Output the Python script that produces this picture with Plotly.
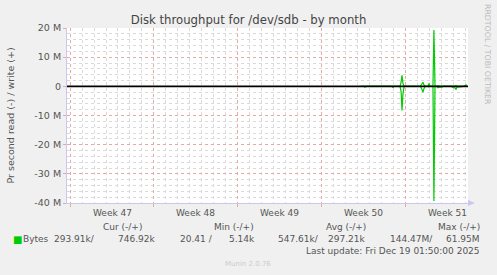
import plotly.graph_objects as go

# ---- data (x in days from start of Week 47; values in bytes/s) ----
t_days = [24.3, 24.5, 24.58, 24.67, 25.9, 26.08, 26.17, 26.25, 26.8, 26.92, 27.0,
          27.5, 27.6, 27.67, 27.75, 27.85, 29.2, 29.33, 29.42, 29.5, 29.6,
          29.83, 29.92, 30.0, 30.25, 30.33, 30.42, 30.58, 30.67, 30.75, 31.0,
          31.1, 31.8, 31.9, 32.08, 32.17, 32.25, 32.8, 32.92, 33.0, 33.08]
write_vals = [0, 0, 0.1e6, 0, 0, 0, 0.1e6, 0, 0, 0.2e6, 0,
              0, 1.5e6, 3.8e6, 1.0e6, 0, 0, 0.8e6, 1.4e6, 0.5e6, 0,
              0, 1.0e6, 0, 0, 19.3e6, 0, 0, 0.2e6, 0, 0.1e6,
              0, 0, 0.1e6, 0, 0.2e6, 0, 0, 0.3e6, 0.5e6, 0.3e6]
read_vals = [0, 0, -0.3e6, 0, 0, 0, -0.2e6, 0, 0, -0.4e6, 0,
             0, -2.0e6, -8.3e6, -2.5e6, 0, 0, -1.0e6, -2.0e6, -0.8e6, 0,
             0, -0.2e6, 0, 0, -39.3e6, 0, 0, -0.5e6, -0.3e6, -0.3e6,
             0, 0, -0.4e6, -0.5e6, -1.0e6, -0.3e6, 0, -0.1e6, 0, 0]

week_starts = [0, 7, 14, 21, 28]
week_mid = [3.5, 10.5, 17.5, 24.5, 31.5]
week_labels = ["Week 47", "Week 48", "Week 49", "Week 50", "Week 51"]
y_tickvals = [20e6, 10e6, 0, -10e6, -20e6, -30e6, -40e6]
y_ticktext = ["20 M", "10 M", "0", "-10 M", "-20 M", "-30 M", "-40 M"]
x_range = [-0.25, 33.17]
y_range = [-40e6, 20e6]

title = "Disk throughput for /dev/sdb - by month"
y_title = "Pr second read (-) / write (+)"
legend_headers = ["Cur (-/+)", "Min (-/+)", "Avg (-/+)", "Max (-/+)"]
series_name = "Bytes"
stat_read = ["293.91k/", "20.41 /", "547.61k/", "144.47M/"]
stat_write = ["746.92k", "5.14k", "297.21k", "61.95M"]
last_update = "Last update: Fri Dec 19 01:50:00 2025"
munin_ver = "Munin 2.0.76"
rrd_credit = "RRDTOOL / TOBI OETIKER"

W, H = 497, 275
L, R, T, B = 67, 468, 28, 203
FONT = "DejaVu Sans"
TXT = "#555555"
GREEN = "#00cc00"


def px(x):
    return (x - L) / (R - L)


def py(y):
    return (B - y) / (B - T)


fig = go.Figure()
fig.add_trace(go.Scatter(x=t_days, y=write_vals, mode="lines",
                         line=dict(color=GREEN, width=1.2), showlegend=False,
                         hoverinfo="skip"))
fig.add_trace(go.Scatter(x=t_days, y=read_vals, mode="lines",
                         line=dict(color=GREEN, width=1.2), showlegend=False,
                         hoverinfo="skip"))

fig.add_hline(y=0, line=dict(color="black", width=1.6), layer="above")

anns = []
for xm, lab in zip(week_mid, week_labels):
    anns.append(dict(x=xm, y=py(213), xref="x", yref="paper", text=lab,
                     showarrow=False, xanchor="center", yanchor="middle",
                     font=dict(family=FONT, size=9, color=TXT)))

hdr_cx = [122, 234, 346, 459]
for cx, h in zip(hdr_cx, legend_headers):
    anns.append(dict(x=px(cx), y=py(227), xref="paper", yref="paper", text=h,
                     showarrow=False, xanchor="center", yanchor="middle",
                     font=dict(family=FONT, size=9, color=TXT)))

# legend colour swatch
anns.append(dict(x=px(17), y=py(239), xref="paper", yref="paper", text="\u25A0",
                 showarrow=False, xanchor="center", yanchor="middle",
                 font=dict(family=FONT, size=10, color=GREEN)))
anns.append(dict(x=px(20.5), y=py(239), xref="paper", yref="paper", text=series_name,
                 showarrow=False, xanchor="left", yanchor="middle",
                 font=dict(family=FONT, size=9, color=TXT)))
read_right = [97, 215, 321, 435]
write_right = [157, 257, 367, 482]
for xr, s in zip(read_right, stat_read):
    anns.append(dict(x=px(xr), y=py(239), xref="paper", yref="paper", text=s,
                     showarrow=False, xanchor="right", yanchor="middle",
                     font=dict(family=FONT, size=9, color=TXT)))
for xr, s in zip(write_right, stat_write):
    anns.append(dict(x=px(xr), y=py(239), xref="paper", yref="paper", text=s,
                     showarrow=False, xanchor="right", yanchor="middle",
                     font=dict(family=FONT, size=9, color=TXT)))

anns.append(dict(x=px(482), y=py(251), xref="paper", yref="paper", text=last_update,
                 showarrow=False, xanchor="right", yanchor="middle",
                 font=dict(family=FONT, size=9, color=TXT)))
anns.append(dict(x=px(248), y=py(264), xref="paper", yref="paper", text=munin_ver,
                 showarrow=False, xanchor="center", yanchor="middle",
                 font=dict(family=FONT, size=7, color="#cccccc")))
anns.append(dict(x=px(488), y=py(54), xref="paper", yref="paper", text=rrd_credit,
                 showarrow=False, xanchor="center", yanchor="middle", textangle=90,
                 font=dict(family=FONT, size=7.8, color="#bbbbbb")))
anns.append(dict(x=px(10), y=0.5, xref="paper", yref="paper", text=y_title,
                 showarrow=False, xanchor="center", yanchor="middle", textangle=-90,
                 font=dict(family=FONT, size=9.5, color=TXT)))

shapes = [
    # axis arrows
    dict(type="path", xref="paper", yref="paper",
         path=f"M {px(64)} {py(T)} L {px(70)} {py(T)} L {px(67)} {py(T-7)} Z",
         fillcolor="#c8c8f8", line=dict(width=0)),
    dict(type="path", xref="paper", yref="paper",
         path=f"M {px(R)} {py(B-3)} L {px(R)} {py(B+3)} L {px(R+7)} {py(B)} Z",
         fillcolor="#c8c8f8", line=dict(width=0)),
]

fig.update_layout(
    width=W, height=H,
    margin=dict(l=L, r=W - R, t=T, b=H - B),
    paper_bgcolor="#f0f0f0", plot_bgcolor="#ffffff",
    title=dict(text=title, x=0.5, xref="container", y=1 - 20 / H, yref="container",
               xanchor="center", yanchor="middle",
               font=dict(family=FONT, size=11.7, color="#444444")),
    xaxis=dict(range=x_range, tickmode="array", tickvals=week_starts,
               showticklabels=False, showgrid=True, gridcolor="#e8a8a8",
               griddash="dot", gridwidth=1, zeroline=False,
               ticks="outside", ticklen=3, tickcolor="#e8a8a8",
               showline=True, linecolor="#c8c8f0", linewidth=1,
               minor=dict(dtick=1, tick0=0, showgrid=True, gridcolor="#dadada",
                          griddash="dot", gridwidth=1)),
    yaxis=dict(range=y_range, tickmode="array", tickvals=y_tickvals,
               ticktext=y_ticktext, showgrid=True, gridcolor="#e8a8a8",
               griddash="dot", gridwidth=1, zeroline=False,
               ticks="outside", ticklen=3, tickcolor="#e8a8a8",
               showline=True, linecolor="#c8c8f0", linewidth=1,
               tickfont=dict(family=FONT, size=9.5, color=TXT),
               minor=dict(dtick=2e6, tick0=0, showgrid=True, gridcolor="#dadada",
                          griddash="dot", gridwidth=1)),
    annotations=anns, shapes=shapes, showlegend=False,
)

fig.write_html("out.html")
